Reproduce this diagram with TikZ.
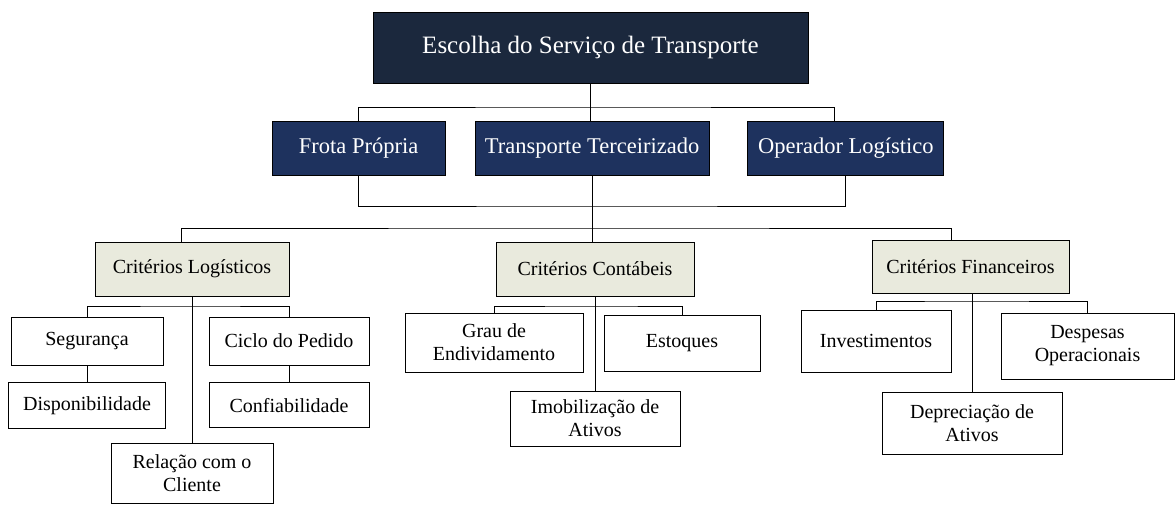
\documentclass[tikz,border=0pt]{standalone}
\usepackage{fontspec}
\setmainfont{Liberation Serif}
\usetikzlibrary{positioning}
\definecolor{topoazul}{RGB}{27,40,61}
\definecolor{nivelazul}{RGB}{30,50,94}
\definecolor{criteriocinza}{RGB}{233,234,221}

\begin{document}
\begin{tikzpicture}[x=1pt,y=-1pt]
      \tikzset{
          every node/.style={inner sep=0pt, align=center},
          topo/.style={rectangle,draw=black,fill=topoazul,text=white,line width=0.9pt, font=\fontsize{25}{29}\selectfont},
          opcao/.style={rectangle,draw=black,fill=nivelazul,text=white,line width=0.9pt, minimum height=54pt, font=\fontsize{22.5}{26}\selectfont},
          criterio/.style={rectangle,draw=black,fill=criteriocinza,line width=0.9pt, minimum height=54pt, font=\fontsize{20}{23}\selectfont},
          folha/.style={rectangle,draw=black,fill=white,line width=0.9pt, font=\fontsize{20}{23}\selectfont},
          myarrow/.style={draw, line width=0.9pt},
      }
      \useasboundingbox (0,0) rectangle (1175,504);

      \node[topo, minimum width=435pt, minimum height=71pt] (item1) at (590.5,47.5) {Escolha do Serviço de Transporte};
      \node[opcao, minimum width=234pt] (item3) at (592,148) {Transporte Terceirizado};
      \node[opcao, minimum width=173pt, left=29pt of item3] (item2) {Frota Própria};
      \node[opcao, minimum width=196pt, right=38pt of item3] (item4) {Operador Logístico};

      \node[criterio, minimum width=194pt] (item5) at (192,269) {Critérios Logísticos};
      \node[criterio, minimum width=198pt] (item6) at (595,269) {Critérios Contábeis};
      \node[criterio, minimum width=197pt, minimum height=53pt] (item7) at (970.5,266.5) {Critérios Financeiros};

      \node[folha, minimum width=152pt, minimum height=48pt] (item8) at (87,341) {Segurança};
      \node[folha, minimum width=157pt, minimum height=46pt, below=17pt of item8] (item9) {Disponibilidade};
      \node[folha, minimum width=160pt, minimum height=48pt] (item10) at (289,341) {Ciclo do Pedido};
      \node[folha, minimum width=160pt, minimum height=45pt, below=17pt of item10] (item11) {Confiabilidade};
      \node[folha, minimum width=162pt, minimum height=60pt] (item12) at (192,473) {Relação com o\\Cliente};

      \node[folha, minimum width=178pt, minimum height=59pt] (item13) at (494,342.5) {Grau de\\Endividamento};
      \node[folha, minimum width=156pt, minimum height=56pt] (item14) at (682,343) {Estoques};
      \node[folha, minimum width=170pt, minimum height=55pt] (item15) at (595,418.5) {Imobilização de\\Ativos};

      \node[folha, minimum width=150pt, minimum height=62pt] (item16) at (876,341) {Investimentos};
      \node[folha, minimum width=173pt, minimum height=66pt] (item17) at (1087.5,346) {Despesas\\Operacionais};
      \node[folha, minimum width=180pt, minimum height=62pt] (item18) at (972,423) {Depreciação de\\Ativos};

      \coordinate (AuxNode01) at (590,107);
      \coordinate (AuxNode02) at (592,206);
      \coordinate (AuxNode03) at (591,228);
      \coordinate (AuxNode04) at (192,306);
      \coordinate (AuxNode05) at (594,306);
      \coordinate (AuxNode06) at (972,301);

      \path[myarrow] (item1.south) -- (item1.south |- item3.north);
      \path[myarrow] (item2.north) |- (AuxNode01) -| ([xshift=-11pt]item4.north);
      \path[myarrow] (item2.south) |- (AuxNode02) -| (item4.south);
      \path[myarrow] (item3.south) -- (item3.south |- item6.north);
      \path[myarrow] ([xshift=-11pt]item5.north) |- (AuxNode03) -| ([xshift=-19pt]item7.north);
      \path[myarrow] (item8.north) |- (AuxNode04) -| (item10.north);
      \path[myarrow] (item5.south) -- (item12.north);
      \path[myarrow] (item8.south) -- (item9.north);
      \path[myarrow] (item10.south) -- (item11.north);
      \path[myarrow] (item13.north) |- (AuxNode05) -| (item14.north);
      \path[myarrow] (item6.south) -- (item15.north);
      \path[myarrow] (item16.north) |- (AuxNode06) -| (item17.north);
      \path[myarrow] (item18.north |- item7.south) -- (item18.north);

\end{tikzpicture}
\end{document}
